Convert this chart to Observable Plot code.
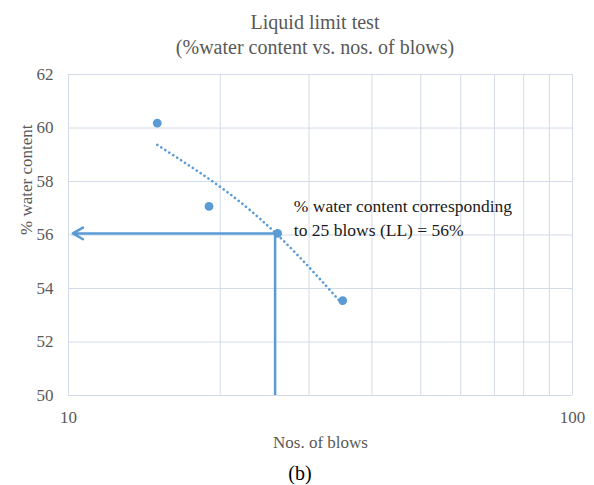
<!DOCTYPE html>
<html><head><meta charset="utf-8">
<script src="https://cdn.jsdelivr.net/npm/d3@7"></script>
<script src="https://cdn.jsdelivr.net/npm/@observablehq/plot@0.6"></script>
<style>
body{margin:0;background:#fff;}
#wrap{position:relative;width:594px;height:485px;font-family:"Liberation Serif","DejaVu Serif",serif;}
.t{position:absolute;left:0;width:630px;text-align:center;color:#595959;font-size:20px;line-height:24px;}
#cap{position:absolute;left:0;width:600px;text-align:center;color:#000;font-size:20px;line-height:24px;top:461px;}
#chart{position:absolute;left:0;top:0;}
</style></head><body>
<div id="wrap">
<div id="chart"></div>
<div class="t" style="top:10px">Liquid limit test</div>
<div class="t" style="top:35px">(%water content vs. nos. of blows)</div>
<div id="cap">(b)</div>
</div>
<script>
// Data
const blows = [15, 19, 26, 35];
const waterContent = [60.18, 57.07, 56.06, 53.55];
const trendBlows = [15, 20, 25, 30, 35];
const trendWater = [59.37, 57.8, 56.3, 54.8, 53.4];
const llBlows = 25.7;
const llWater = 56.06;
const arrowEndBlows = 10.2;
const xTicks = [10, 100];
const xGrid = [10, 20, 30, 40, 50, 60, 70, 80, 90, 100];
const yTicks = [50, 52, 54, 56, 58, 60, 62];
const annotation = "% water content corresponding\nto 25 blows (LL) = 56%";
const xLabel = "Nos. of blows";
const yLabel = "% water content";

const points = blows.map((b, i) => ({b, w: waterContent[i]}));
const trend = trendBlows.map((b, i) => ({b, w: trendWater[i]}));
const blue = "#5B9BD5";
const gridColor = "#d3dbe8";
const serif = '"Liberation Serif","DejaVu Serif",serif';

const chart = Plot.plot({
  width: 594,
  height: 485,
  marginTop: 74,
  marginBottom: 90,
  marginLeft: 68,
  marginRight: 22,
  style: {fontFamily: serif, fontSize: "17px", color: "#595959", background: "transparent"},
  x: {type: "log", domain: [10, 100]},
  y: {domain: [50, 62]},
  marks: [
    Plot.gridX(xGrid, {stroke: gridColor, strokeOpacity: 1, strokeWidth: 1}),
    Plot.gridY(yTicks, {stroke: gridColor, strokeOpacity: 1, strokeWidth: 1}),
    Plot.axisX(xTicks, {tickSize: 0, tickPadding: 15, tickFormat: d => String(d), label: null, fontFamily: serif, fontSize: 17}),
    Plot.axisY(yTicks, {tickSize: 0, tickPadding: 15, label: null, fontFamily: serif, fontSize: 17}),
    Plot.text([xLabel], {frameAnchor: "bottom", dy: 47, lineAnchor: "middle", fill: "#595959", fontSize: 17, fontFamily: serif}),
    Plot.text([yLabel], {frameAnchor: "left", dx: -42, rotate: -90, lineAnchor: "middle", fill: "#595959", fontSize: 17, fontFamily: serif}),
    Plot.ruleX([llBlows], {y1: 50, y2: llWater, stroke: blue, strokeWidth: 2.5}),
    Plot.arrow([{x1: llBlows, y1: llWater, x2: arrowEndBlows, y2: llWater}], {x1: "x1", y1: "y1", x2: "x2", y2: "y2", stroke: blue, strokeWidth: 2.5, headLength: 7, headAngle: 60}),
    Plot.line(trend, {x: "b", y: "w", stroke: blue, strokeWidth: 2.6, strokeDasharray: "0.1 4.6", strokeLinecap: "round", curve: "natural"}),
    Plot.dot(points, {x: "b", y: "w", r: 4.4, fill: blue, stroke: "none"}),
    Plot.text([annotation], {x: 28, y: 56.69, textAnchor: "start", lineAnchor: "middle", lineHeight: 1.35, fill: "#1a1a1a", fontSize: 17.5, fontFamily: serif})
  ]
});
document.getElementById("chart").appendChild(chart);
</script>
</body></html>
